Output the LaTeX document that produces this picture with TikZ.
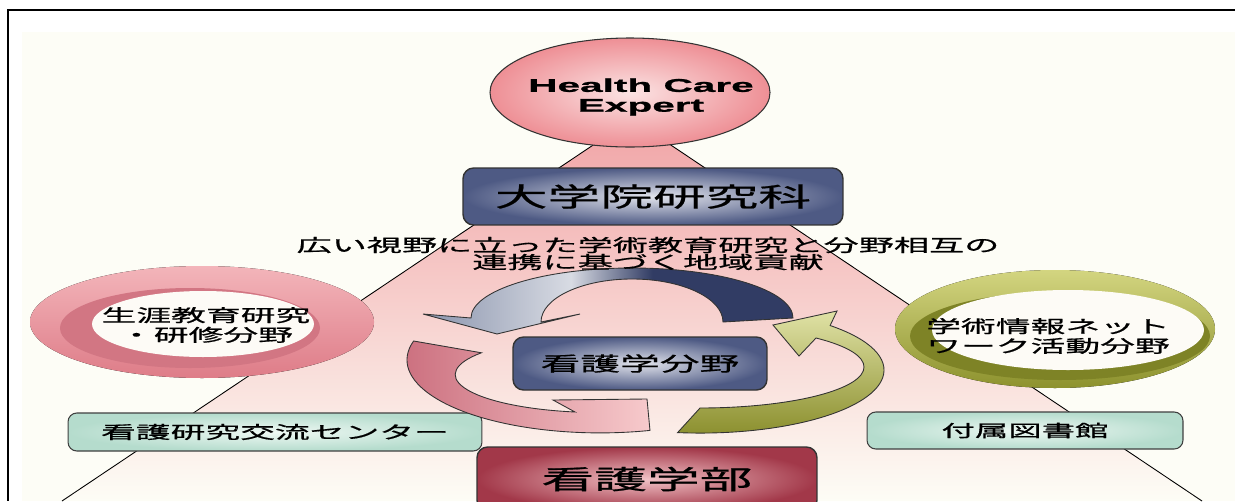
\documentclass[tikz,border=0pt]{standalone}
\usepackage{fontspec}
\usetikzlibrary{shapes.geometric}

\newfontfamily\jpfont[FakeStretch=2,FakeBold=0.8]{Noto Sans CJK JP}
\newfontfamily\hcfont[FakeStretch=2.2,FakeBold=1.2]{Liberation Sans}

\definecolor{paper}{HTML}{FDFDF6}
\definecolor{tripink}{HTML}{F1A4A6}
\definecolor{trimid}{HTML}{F8D0CE}
\definecolor{hcpink}{HTML}{EE8F95}
\definecolor{hcpinklight}{HTML}{FBE3E3}
\definecolor{slate}{HTML}{4E5A84}
\definecolor{slatelight}{HTML}{E2E4EC}
\definecolor{rose}{HTML}{A23849}
\definecolor{roselight}{HTML}{F2C2C6}
\definecolor{teal}{HTML}{B5DCCD}
\definecolor{teallight}{HTML}{EEF8F3}
\definecolor{ringpink}{HTML}{DE7C88}
\definecolor{ringpinklight}{HTML}{F3B5BA}
\definecolor{ringpinkdark}{HTML}{D27683}
\definecolor{olive}{HTML}{8D922E}
\definecolor{olivelight}{HTML}{D3D580}
\definecolor{olivedark}{HTML}{7E8326}
\definecolor{holewhite}{HTML}{FDFBF6}
\definecolor{arcgray}{HTML}{8A94AD}
\definecolor{arclight}{HTML}{D8DBE3}
\definecolor{arcnavy}{HTML}{313C64}
\definecolor{pinkarrowdark}{HTML}{C96A7A}
\definecolor{pinkarrowlight}{HTML}{F7CACC}
\definecolor{olivearrowdark}{HTML}{8A8E2C}
\definecolor{olivearrowlight}{HTML}{E0E2A6}

\pgfdeclarehorizontalshading{navyarc}{100bp}{color(0bp)=(arcgray); color(25bp)=(arcgray);
  color(45bp)=(arclight); color(56bp)=(arcnavy); color(100bp)=(arcnavy)}

\begin{document}
\begin{tikzpicture}[x=0.02cm,y=0.02cm,
    slatebox/.style={draw=black!80,line width=0.8pt,rounded corners=6pt,
      inner color=slatelight,outer color=slate},
    rosebox/.style={draw=black!80,line width=0.8pt,rounded corners=6pt,
      inner color=roselight,outer color=rose},
    tealbox/.style={draw=black!75,line width=0.6pt,rounded corners=5pt,
      inner color=teallight,outer color=teal,
      font=\jpfont\fontsize{9.9pt}{10pt}\selectfont},
    ringtext/.style={align=center,font=\jpfont\fontsize{9.9pt}{11.2pt}\selectfont},
    cyclearrow/.style={draw=black!80,line width=0.5pt}]
  \useasboundingbox (0,0) rectangle (1235,-501);
  \fill[white] (0,0) rectangle (1235,-501);
  \fill[paper] (22,-32) rectangle (1235,-501);
  \draw[line width=1.4pt] (1235,-10) -- (8,-10) -- (8,-501);

  % pyramid behind everything
  \shade[top color=tripink,middle color=trimid,bottom color=paper]
    (632,-119) -- (62,-501) -- (1202,-501) -- cycle;
  \draw[line width=0.5pt] (62,-501) -- (632,-119) -- (1202,-501);

  \draw[black!80,line width=0.6pt,inner color=hcpinklight,outer color=hcpink]
    (630,-92.5) ellipse[x radius=140,y radius=54.5];
  \node[align=center,font=\hcfont\bfseries\fontsize{10.5pt}{11.3pt}\selectfont] (expert) at (641,-97) {Health Care\\Expert};

  % rings on both sides
  \fill[top color=ringpinklight,bottom color=ringpink] (202,-322) ellipse[x radius=172,y radius=56];
  \fill[ringpinkdark] (190,-328) ellipse[x radius=130,y radius=40];
  \fill[holewhite] (203,-324) ellipse[x radius=111,y radius=33];
  \node[ringtext] (lifelong) at (206,-325) {生涯教育研究\\・研修分野};

  \fill[top color=olivelight,bottom color=olive] (1055,-329) ellipse[x radius=160,y radius=59];
  \fill[olivedark] (1060,-336) ellipse[x radius=150,y radius=44];
  \fill[holewhite] (1068,-330) ellipse[x radius=136,y radius=40];
  \node[ringtext] (network) at (1048,-336) {学術情報ネット\\ワーク活動分野};

  \node[slatebox,minimum width=7.6cm,minimum height=1.14cm,
    font=\jpfont\fontsize{15pt}{15pt}\selectfont] (graduate) at (653,-196.5) {大学院研究科};
  \node[tealbox,minimum width=8.28cm,minimum height=0.76cm] (exchange) at (275,-432) {看護研究交流センター};
  \node[tealbox,minimum width=6.32cm,minimum height=0.74cm,
    font=\jpfont\fontsize{9.5pt}{10pt}\selectfont] (library) at (1025,-430.5) {付属図書館};
  \node[rosebox,minimum width=6.8cm,minimum height=1.28cm,
    font=\jpfont\fontsize{15pt}{15pt}\selectfont] (faculty) at (647,-479) {看護学部};

  % the cycle
  \path[cyclearrow,shading=navyarc] (793,-318) arc[start angle=0,end angle=180,x radius=161,y radius=50]
    -- (423,-314) -- (497,-334) -- (580,-314) -- (541,-322)
    arc[start angle=180,end angle=0,x radius=91,y radius=43] -- cycle;
  \path[cyclearrow,left color=pinkarrowdark,right color=pinkarrowlight]
    (413.6,-341) arc[start angle=165,end angle=285,x radius=193,y radius=73]
    -- (647,-399) -- (553,-400) -- (575,-412)
    arc[start angle=260,end angle=145,x radius=145,y radius=38] -- cycle;
  \path[cyclearrow,top color=olivearrowlight,bottom color=olivearrowdark]
    (677.6,-432.6) arc[start angle=263,end angle=405,x radius=184,y radius=63]
    -- (837,-311) -- (773,-325) -- (799,-356) -- (816,-338)
    arc[start angle=45,end angle=-90,x radius=164,y radius=41] -- cycle;
  \node[slatebox,minimum width=5.08cm,minimum height=1.06cm,
    font=\jpfont\fontsize{11.3pt}{12pt}\selectfont] (nursing) at (640,-363.5) {看護学分野};

  \node[align=center,font=\jpfont\fontsize{10pt}{9.7pt}\selectfont] (mission) at (648,-253.5)
    {広い視野に立った学術教育研究と分野相互の\\連携に基づく地域貢献};
\end{tikzpicture}
\end{document}
